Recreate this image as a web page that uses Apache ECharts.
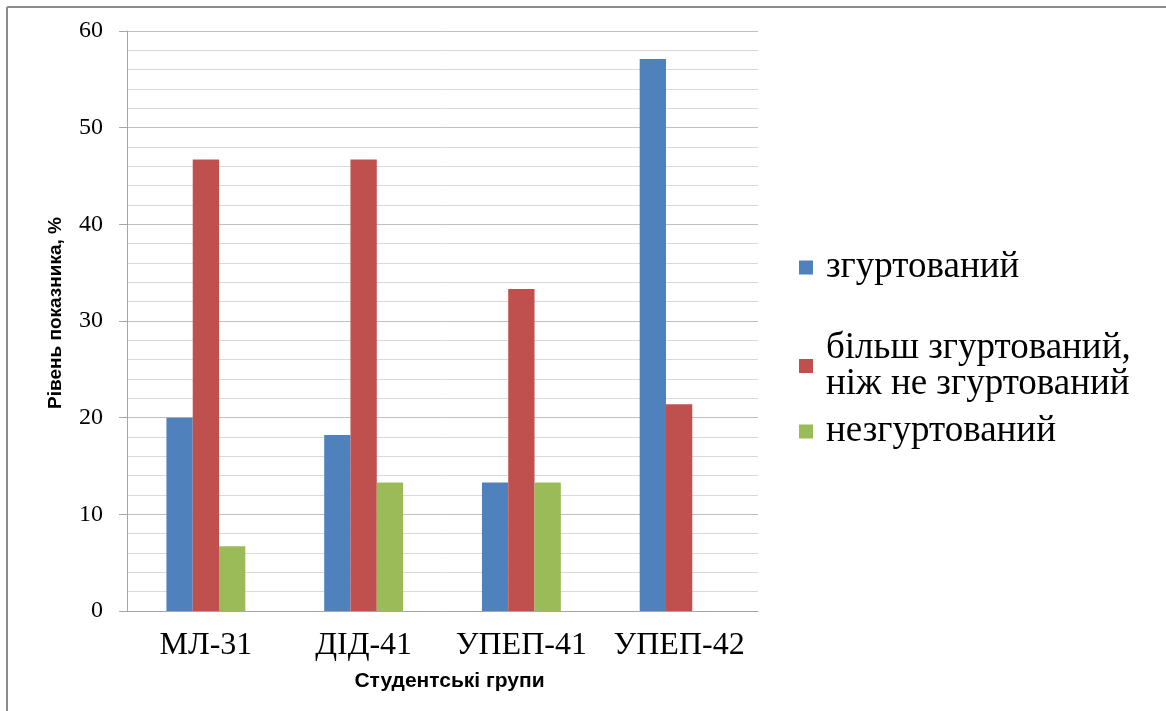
<!DOCTYPE html>
<html>
<head>
<meta charset="utf-8">
<script src="https://cdn.jsdelivr.net/npm/echarts@6/dist/echarts.min.js"></script>
<style>
html,body{margin:0;padding:0;background:#fff;}
#chart{width:1166px;height:711px;}
</style>
</head>
<body>
<div id="chart"></div>
<script>
const categories = ['МЛ-31', 'ДІД-41', 'УПЕП-41', 'УПЕП-42'];
const seriesNames = ['згуртований', 'більш згуртований,\nніж не згуртований', 'незгуртований'];
const cohesive = [20.0, 18.2, 13.3, 57.1];
const moreCohesive = [46.7, 46.7, 33.3, 21.4];
const notCohesive = [6.7, 13.3, 13.3, 0];
const colors = ['#4F81BD', '#C0504D', '#9BBB59'];
const yTicks = {min: 0, max: 60, interval: 10};

const chart = echarts.init(document.getElementById('chart'), null, {renderer: 'canvas'});
const serif = '"Liberation Serif", "Times New Roman", serif';
const sans = '"Liberation Sans", Arial, sans-serif';
const values = [cohesive, moreCohesive, notCohesive];

const legendText = {fontFamily: serif, fontSize: 37, color: '#000', lineHeight: 36};
function legendAt(name, top, extraPad) {
  return {
    show: true, orient: 'vertical', left: 799, top: top,
    data: [name], icon: 'rect', itemWidth: 14, itemHeight: 14, itemGap: 0,
    selectedMode: false,
    textStyle: Object.assign({}, legendText, {padding: [extraPad ? 36 : 0, 0, 0, 8]}),
    padding: 0
  };
}

chart.setOption({
  animation: false,
  color: colors,
  grid: {left: 127, right: 408, top: 31, bottom: 100, containLabel: false},
  legend: [
    legendAt(seriesNames[0], 249, false),
    legendAt(seriesNames[1], 312, true),
    legendAt(seriesNames[2], 413, false)
  ],
  xAxis: {
    type: 'category',
    data: categories,
    name: 'Студентські групи',
    nameLocation: 'middle',
    nameGap: 60,
    nameTextStyle: {fontFamily: sans, fontWeight: 'bold', fontSize: 21, color: '#000', padding: [0, 0, 0, 14]},
    axisLine: {show: true, lineStyle: {color: '#a6a6a6', width: 1}},
    axisTick: {show: false},
    axisLabel: {interval: 0, fontFamily: serif, fontSize: 32, color: '#000', margin: 19}
  },
  yAxis: {
    type: 'value',
    min: yTicks.min, max: yTicks.max, interval: yTicks.interval,
    name: 'Рівень показника, %',
    nameLocation: 'middle',
    nameGap: 62,
    nameRotate: 90,
    nameTextStyle: {fontFamily: sans, fontWeight: 'bold', fontSize: 19, color: '#000', padding: [0, 0, 0, 16]},
    axisLine: {show: true, lineStyle: {color: '#a6a6a6', width: 1}},
    axisTick: {show: true, length: 8, lineStyle: {color: '#a6a6a6'}},
    axisLabel: {fontFamily: serif, fontSize: 24, color: '#000', margin: 24},
    splitLine: {show: true, lineStyle: {color: '#bfbfbf', width: 1}},
    minorTick: {show: false, splitNumber: 5},
    minorSplitLine: {show: true, lineStyle: {color: '#d9d9d9', width: 1}}
  },
  series: seriesNames.map((n, i) => ({
    name: n,
    type: 'bar',
    data: values[i],
    barGap: '0%',
    barCategoryGap: '50%',
    itemStyle: {color: colors[i]}
  })),
  graphic: [
    {type: 'line', shape: {x1: 7, y1: 7, x2: 1166, y2: 7}, style: {stroke: '#8c8c8c', lineWidth: 2}, silent: true},
    {type: 'line', shape: {x1: 7, y1: 7, x2: 7, y2: 711}, style: {stroke: '#8c8c8c', lineWidth: 2}, silent: true}
  ]
});
</script>
</body>
</html>
